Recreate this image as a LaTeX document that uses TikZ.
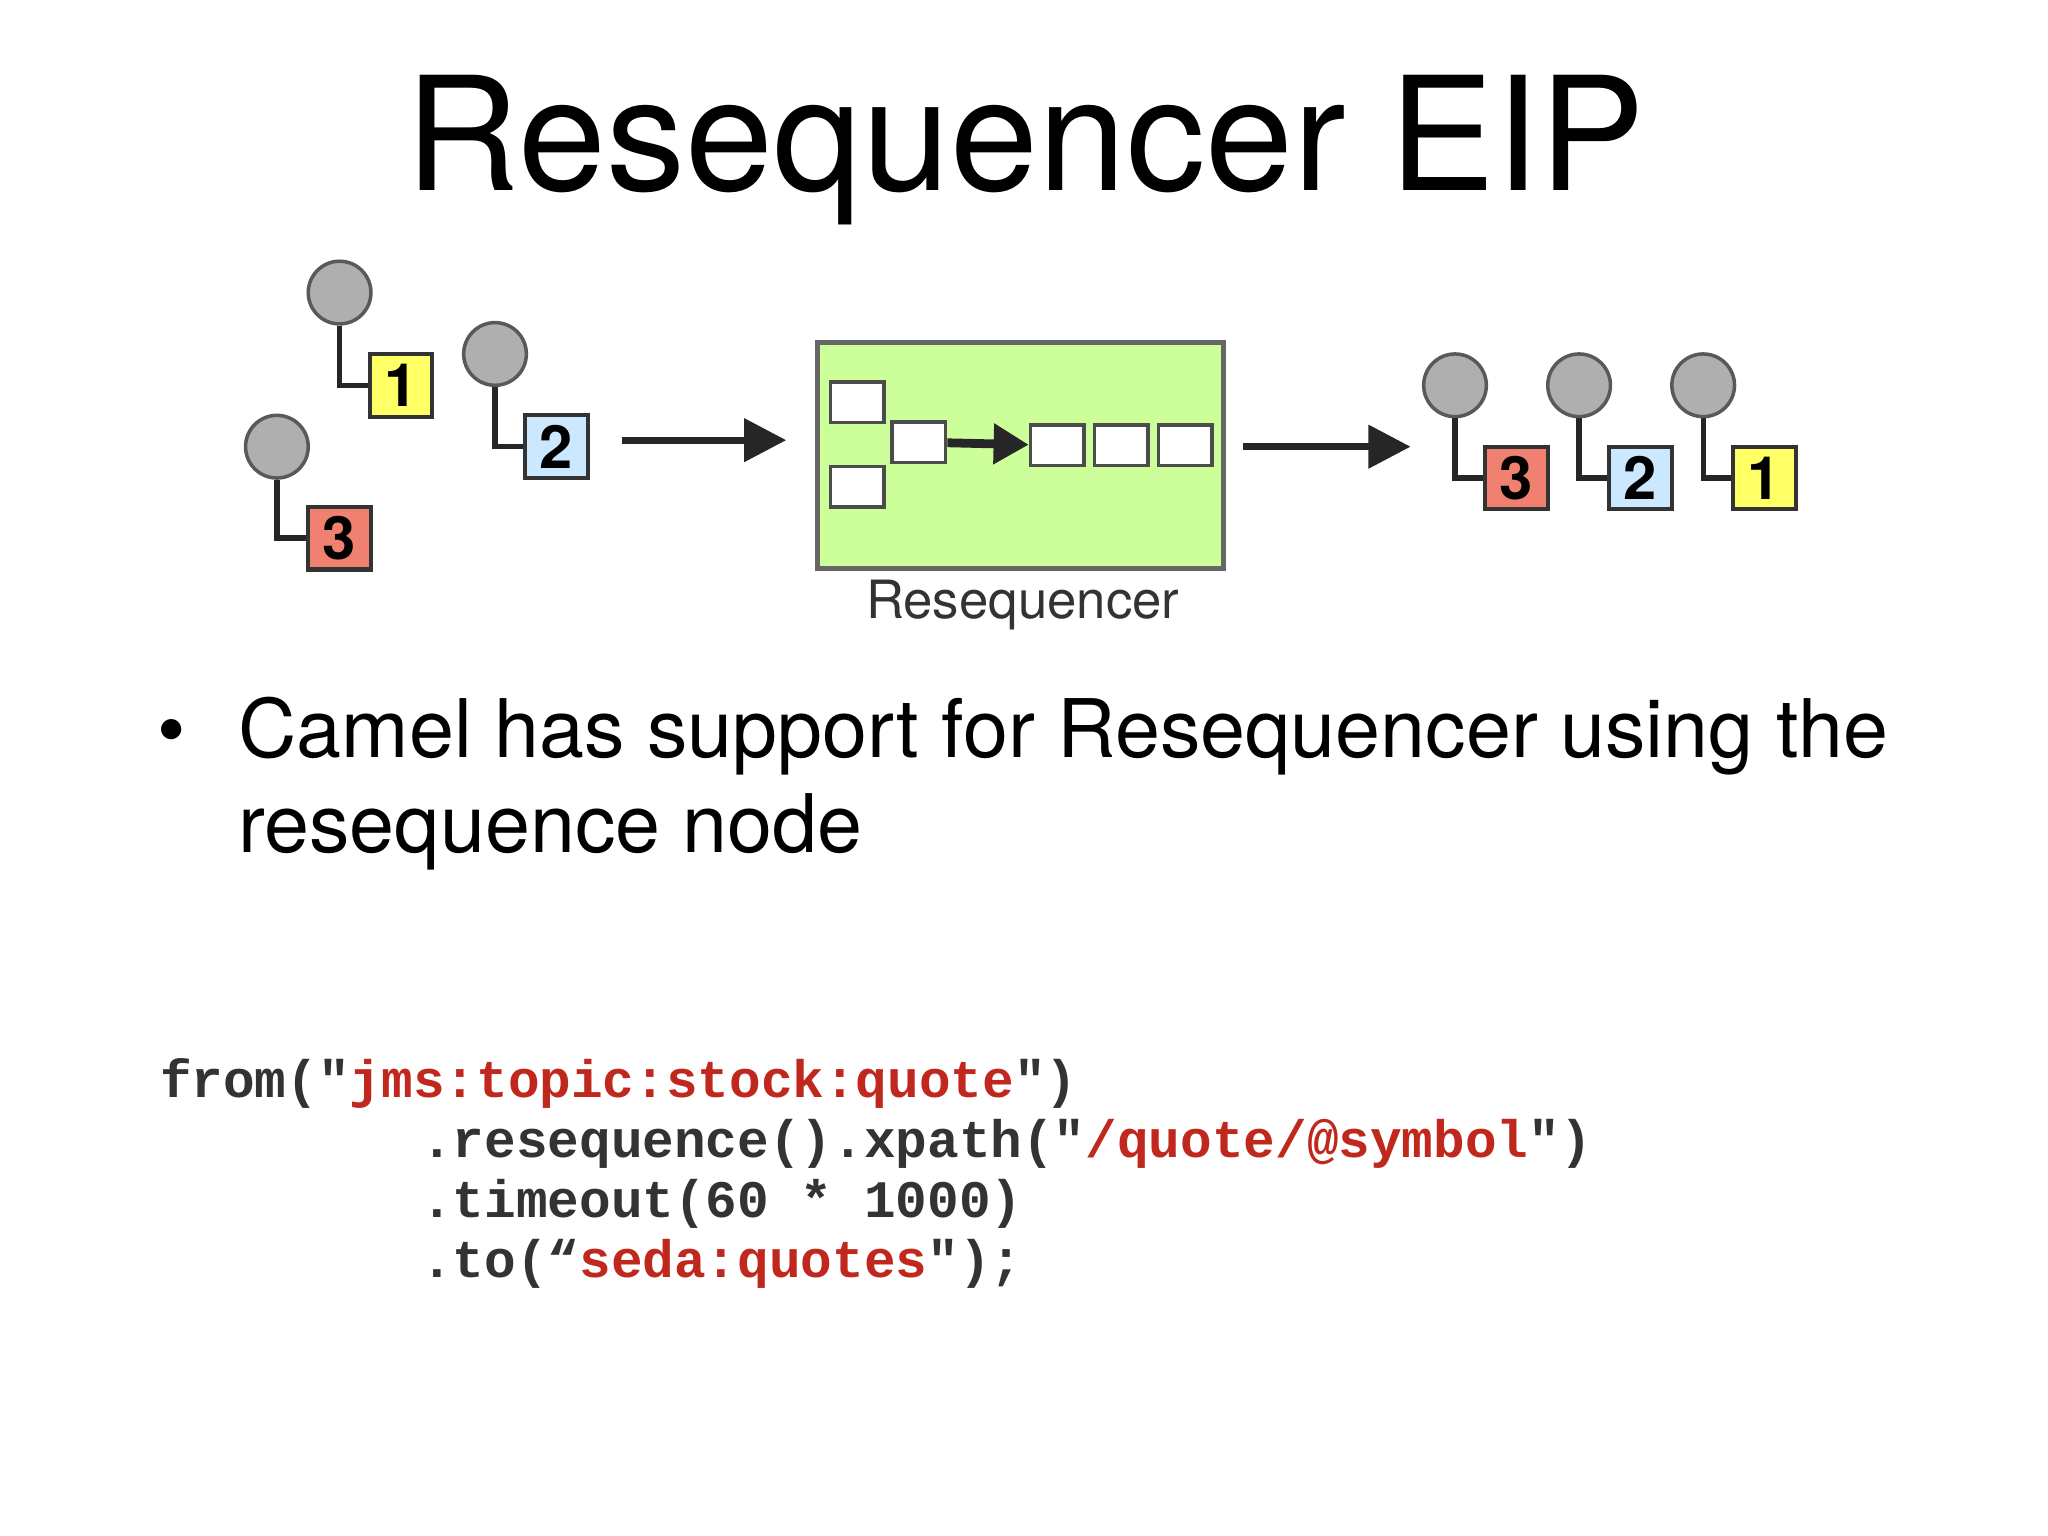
\documentclass[tikz,border=0pt]{standalone}
\usepackage{fontspec}
\setmainfont{TeX Gyre Heros}
\newfontfamily\codefont{Liberation Mono}
\usetikzlibrary{arrows.meta}
\definecolor{cred}{HTML}{C0281E}
\definecolor{cdark}{HTML}{333333}
\definecolor{gfill}{HTML}{CCFF99}
\definecolor{myel}{HTML}{FFFF66}
\definecolor{mblue}{HTML}{CCE8FF}
\definecolor{mred}{HTML}{F08070}
\begin{document}
\begin{tikzpicture}[x=0.01306cm,y=-0.01306cm,
  ball/.style={circle,fill=gray!95!black!60,draw=gray!70!black,line width=1pt,minimum size=48*0.01306cm,inner sep=0pt},
  msg/.style={draw=black!80,line width=1.2pt,minimum width=48*0.01306cm,minimum height=48*0.01306cm,inner sep=0pt,font=\bfseries\fontsize{17}{17}\selectfont},
  slot/.style={draw=black!70,fill=white,line width=1pt,minimum width=41*0.01306cm,minimum height=31*0.01306cm,inner sep=0pt},
  lnk/.style={draw=black!85,line width=1.5pt},
  arr/.style={draw=black!85,line width=2pt,-{Triangle[length=12pt,width=12pt]}},
  code/.style={anchor=base west,inner sep=0pt,font=\codefont\bfseries\fontsize{15}{15}\selectfont,text=cdark}]
\useasboundingbox (0,0) rectangle (1568,1176);
\node[inner sep=0pt,font=\fontsize{45}{45}\selectfont] (title) at (785,115) {Resequencer EIP};
% left messages
\node[ball] (c1) at (260,224) {};
\node[msg,fill=myel] (m1) at (307,295) {1};
\draw[lnk] (c1) |- (m1);
\node[ball] (c2) at (379,271) {};
\node[msg,fill=mblue] (m2) at (426,342) {2};
\draw[lnk] (c2) |- (m2);
\node[ball] (c3) at (212,342) {};
\node[msg,fill=mred] (m3) at (260,412) {3};
\draw[lnk] (c3) |- (m3);
\coordinate (a1s) at (476,337); \coordinate (a1e) at (602,337);
\draw[arr] (a1s) -- (a1e);
% resequencer
\node[draw=black!60,fill=gfill,line width=1.5pt,minimum width=311*0.01306cm,minimum height=173*0.01306cm,inner sep=0pt] (rs) at (781.5,348.5) {};
\node[slot] (s1) at (656.5,308) {};
\node[slot] (s2) at (656.5,372.5) {};
\node[slot] (s3) at (703.5,338.5) {};
\node[slot] (q1) at (809.5,341) {};
\node[slot] (q2) at (858.5,341) {};
\node[slot] (q3) at (907.5,341) {};
\draw[arr,line width=2.5pt,-{Triangle[length=10pt,width=11pt]}] (s3) -- (q1);
\node[inner sep=0pt,text=black!80,font=\fontsize{15}{15}\selectfont] (rl) at (783,463) {Resequencer};
\coordinate (a2s) at (952,342); \coordinate (a2e) at (1080,342);
\draw[arr] (a2s) -- (a2e);
% right messages
\node[ball] (d3) at (1114,295) {};
\node[msg,fill=mred] (n3) at (1161,366) {3};
\draw[lnk] (d3) |- (n3);
\node[ball] (d2) at (1209,295) {};
\node[msg,fill=mblue] (n2) at (1256,366) {2};
\draw[lnk] (d2) |- (n2);
\node[ball] (d1) at (1304,295) {};
\node[msg,fill=myel] (n1) at (1351,366) {1};
\draw[lnk] (d1) |- (n1);
% bullet
\node[anchor=base west,inner sep=0pt,font=\fontsize{23}{23}\selectfont] (b0) at (120,580) {•};
\node[anchor=base west,inner sep=0pt,font=\fontsize{23}{23}\selectfont] (b1) at (182,580) {Camel has support for Resequencer using the};
\node[anchor=base west,inner sep=0pt,font=\fontsize{23}{23}\selectfont] (b2) at (182,653) {resequence node};
% code
\node[code] (l1) at (122,840) {from("\textcolor{cred}{jms:topic:stock:quote}")};
\node[code] (l2) at (322,886) {.resequence().xpath("\textcolor{cred}{/quote/@symbol}")};
\node[code] (l3) at (322,932) {.timeout(60 * 1000)};
\node[code] (l4) at (322,978) {.to(“\textcolor{cred}{seda:quotes}");};
\end{tikzpicture}
\end{document}
